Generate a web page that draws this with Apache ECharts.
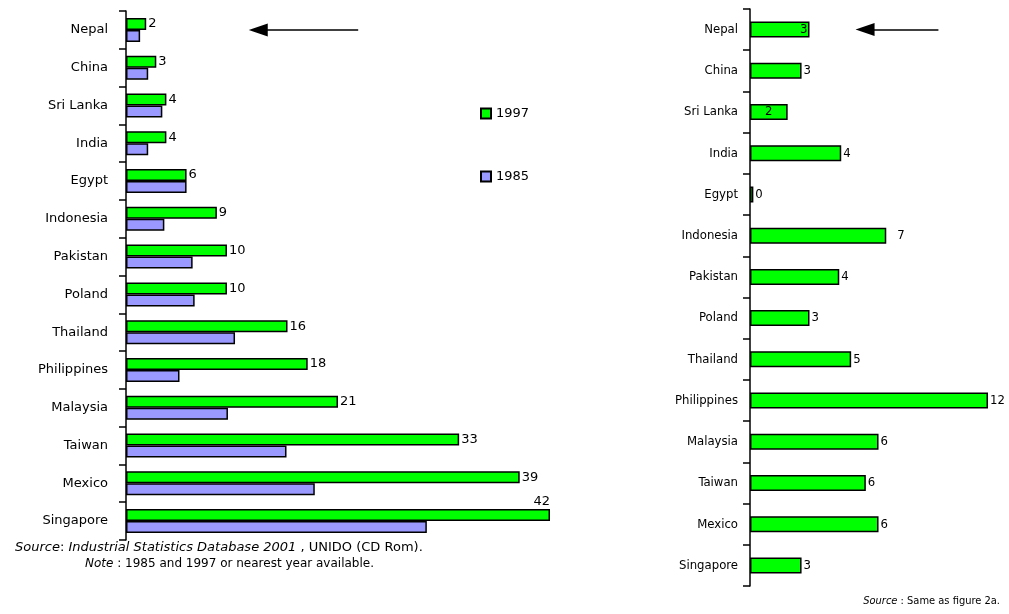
<!DOCTYPE html>
<html>
<head>
<meta charset="utf-8">
<script src="https://cdn.jsdelivr.net/npm/echarts@6/dist/echarts.min.js"></script>
<style>
html, body { margin: 0; padding: 0; background: #fff; }
#main { width: 1009px; height: 614px; }
</style>
</head>
<body>
<div id="main"></div>
<script>
// categories, top to bottom
var countries = ['Nepal', 'China', 'Sri Lanka', 'India', 'Egypt', 'Indonesia', 'Pakistan',
	'Poland', 'Thailand', 'Philippines', 'Malaysia', 'Taiwan', 'Mexico', 'Singapore'];
// left panel
var share1997 = [2, 3, 4, 4, 6, 9, 10, 10, 16, 18, 21, 33, 39, 42];
var share1985 = [1.4, 2.2, 3.6, 2.2, 6.0, 3.8, 6.6, 6.8, 10.8, 5.3, 10.1, 15.9, 18.7, 29.8];
// right panel (bar lengths, printed numbers beside)
var change = [3.0, 2.6, 1.9, 4.6, 0.17, 6.87, 4.5, 3.0, 5.1, 12, 6.48, 5.84, 6.48, 2.6];
var changeLabels = ['3', '3', '2', '4', '0', '7', '4', '3', '5', '12', '6', '6', '6', '3'];

var font = '"DejaVu Sans", Verdana, sans-serif';
var narrow = '"DejaVu Sans Condensed", "Liberation Sans", Arial, sans-serif';

var chart = echarts.init(document.getElementById('main'));

var leftData = share1997.map(function(v, i) {
	var d = { value: v };
	if (i === share1997.length - 1) {
		d.label = { position: ['100%', -1], align: 'right', verticalAlign: 'bottom' };
	}
	return d;
});

var rightData = change.map(function(v, i) {
	var d = { value: v };
	if (countries[i] === 'Nepal') d.label = { position: 'insideRight', distance: 2 };
	if (countries[i] === 'Sri Lanka') d.label = { position: 'inside' };
	if (countries[i] === 'Indonesia') d.label = { distance: 11 };
	return d;
});

function catAxis(grid, margin, fam) {
	return {
		type: 'category',
		gridIndex: grid,
		data: countries,
		inverse: true,
		axisLine: { lineStyle: { color: '#000', width: 1.5 } },
		axisTick: { show: true, length: 7, lineStyle: { color: '#000', width: 1.5 } },
		axisLabel: { margin: margin, color: '#000', fontSize: 13, fontFamily: fam }
	};
}

var arrowLine = {
	silent: true,
	animation: false,
	symbol: ['none', 'triangle'],
	symbolSize: [13, 19],
	label: { show: false },
	lineStyle: { color: '#000', width: 1.5, type: 'solid' }
};

chart.setOption({
	animation: false,
	backgroundColor: '#fff',
	textStyle: { fontFamily: font },
	grid: [
		{ left: 126, right: 459, top: 11, bottom: 74 },
		{ left: 750, right: 21, top: 9, bottom: 28 }
	],
	legend: {
		data: ['1997', '1985'],
		orient: 'vertical',
		left: 475,
		top: 102,
		icon: 'rect',
		itemWidth: 10,
		itemHeight: 10,
		itemGap: 50,
		textStyle: { fontSize: 13, color: '#000', fontFamily: font }
	},
	xAxis: [
		{ type: 'value', gridIndex: 0, min: 0, max: 42, show: false },
		{ type: 'value', gridIndex: 1, min: 0, max: 12, show: false }
	],
	yAxis: [
		catAxis(0, 18, font),
		catAxis(1, 12, narrow)
	],
	series: [{
		name: '1997',
		type: 'bar',
		xAxisIndex: 0,
		yAxisIndex: 0,
		data: leftData,
		barWidth: 12,
		barGap: '0%',
		itemStyle: { color: '#00ff00', borderColor: '#000', borderWidth: 1.5 },
		label: { show: true, position: 'right', distance: 2, color: '#000', fontSize: 13, fontFamily: font }
	}, {
		name: '1985',
		type: 'bar',
		xAxisIndex: 0,
		yAxisIndex: 0,
		data: share1985,
		barWidth: 12,
		barGap: '0%',
		itemStyle: { color: '#9999ff', borderColor: '#000', borderWidth: 1.5 }
	}, {
		// arrow pointing at Nepal, left panel
		name: 'arrow',
		type: 'line',
		xAxisIndex: 0,
		yAxisIndex: 0,
		data: [],
		markLine: Object.assign({
			data: [[{ coord: [23, 0] }, { coord: [13.1, 0] }]]
		}, arrowLine)
	}, {
		name: 'change',
		type: 'bar',
		xAxisIndex: 1,
		yAxisIndex: 1,
		data: rightData,
		barWidth: 16,
		itemStyle: { color: '#00ff00', borderColor: '#000', borderWidth: 1.5 },
		label: {
			show: true, position: 'right', distance: 2, color: '#000', fontSize: 13,
			fontFamily: narrow,
			formatter: function(p) { return changeLabels[p.dataIndex]; }
		},
		markLine: Object.assign({
			data: [[{ coord: [9.5, 0] }, { coord: [5.8, 0] }]]
		}, arrowLine)
	}],
	graphic: [{
		type: 'text',
		left: 15,
		top: 541,
		style: {
			text: '{i|Source}{n|: }{i|Industrial Statistics Database 2001}{n| , UNIDO (CD Rom).}',
			rich: {
				i: { fontStyle: 'italic', fontSize: 13, fontFamily: font, fill: '#000' },
				n: { fontSize: 13, fontFamily: font, fill: '#000' }
			}
		}
	}, {
		type: 'text',
		left: 85,
		top: 558,
		style: {
			text: '{i|Note}{n| : 1985 and 1997 or nearest year available.}',
			rich: {
				i: { fontStyle: 'italic', fontSize: 12, fontFamily: font, fill: '#000' },
				n: { fontSize: 12, fontFamily: font, fill: '#000' }
			}
		}
	}, {
		type: 'text',
		right: 9,
		top: 596,
		style: {
			text: '{i|Source}{n| : Same as figure 2a.}',
			rich: {
				i: { fontStyle: 'italic', fontSize: 11, fontFamily: narrow, fill: '#000' },
				n: { fontSize: 11, fontFamily: narrow, fill: '#000' }
			}
		}
	}]
});
</script>
</body>
</html>
